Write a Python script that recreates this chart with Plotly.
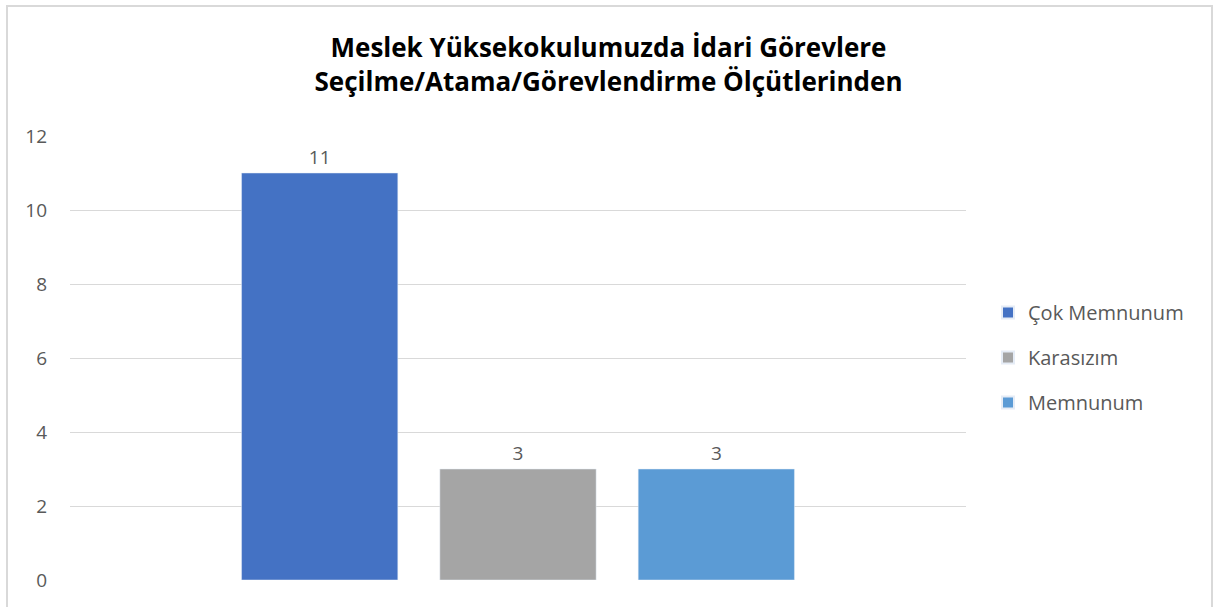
import plotly.graph_objects as go

series_names = ["Çok Memnunum", "Karasızım", "Memnunum"]
series_values = [11, 3, 3]
series_colors = ["#4472C4", "#A5A5A5", "#5B9BD5"]
category = [""]
title_lines = ["Meslek Yüksekokulumuzda İdari Görevlere", "Seçilme/Atama/Görevlendirme Ölçütlerinden"]

W, H = 1217, 607
L, R, T, B = 70, 251, 136, 27
pw, ph = W - L - R, H - T - B

fig = go.Figure()
for name, val, col in zip(series_names, series_values, series_colors):
    fig.add_trace(go.Bar(
        x=category, y=[val], name=name, marker_color=col, legendgroup=name,
        text=[str(val)], textposition="outside",
        textfont=dict(size=19, color="#595959"), cliponaxis=False,
    ))

def px_x(p):
    return (p - L) / pw

def px_y(p):
    return (H - B - p) / ph

fig.add_shape(type="rect", xref="paper", yref="paper",
              x0=px_x(7), x1=px_x(1212), y0=px_y(612), y1=px_y(6),
              line=dict(color="#D9D9D9", width=2), fillcolor="rgba(0,0,0,0)", layer="below")

fig.update_layout(
    width=W, height=H,
    margin=dict(l=L, r=R, t=T, b=B),
    paper_bgcolor="white", plot_bgcolor="white",
    font=dict(family="Open Sans", color="#595959", size=19),
    title=dict(text="<br>".join(title_lines), x=0.5, xanchor="center",
               y=1 - 57 / H, yanchor="middle",
               font=dict(family="Open Sans", size=26, color="black", weight="bold")),
    barmode="group", bargap=0.336, bargroupgap=0.212,
    showlegend=True,
    legend=dict(x=px_x(988), y=px_y(293), xanchor="left", yanchor="top",
                font=dict(size=20, color="#595959"), tracegroupgap=16,
                itemsizing="constant", itemwidth=30),
    xaxis=dict(showticklabels=False, showline=False, showgrid=False, zeroline=False),
    yaxis=dict(range=[0, 12], dtick=2, showgrid=True, gridcolor="#D9D9D9", gridwidth=1,
               zeroline=False, showline=False, ticks="", tickfont=dict(size=19, color="#595959"),
               ticklabelstandoff=22),
)

fig.write_html("out.html", config={"displayModeBar": False},
               post_script="document.body.style.margin='0';")
